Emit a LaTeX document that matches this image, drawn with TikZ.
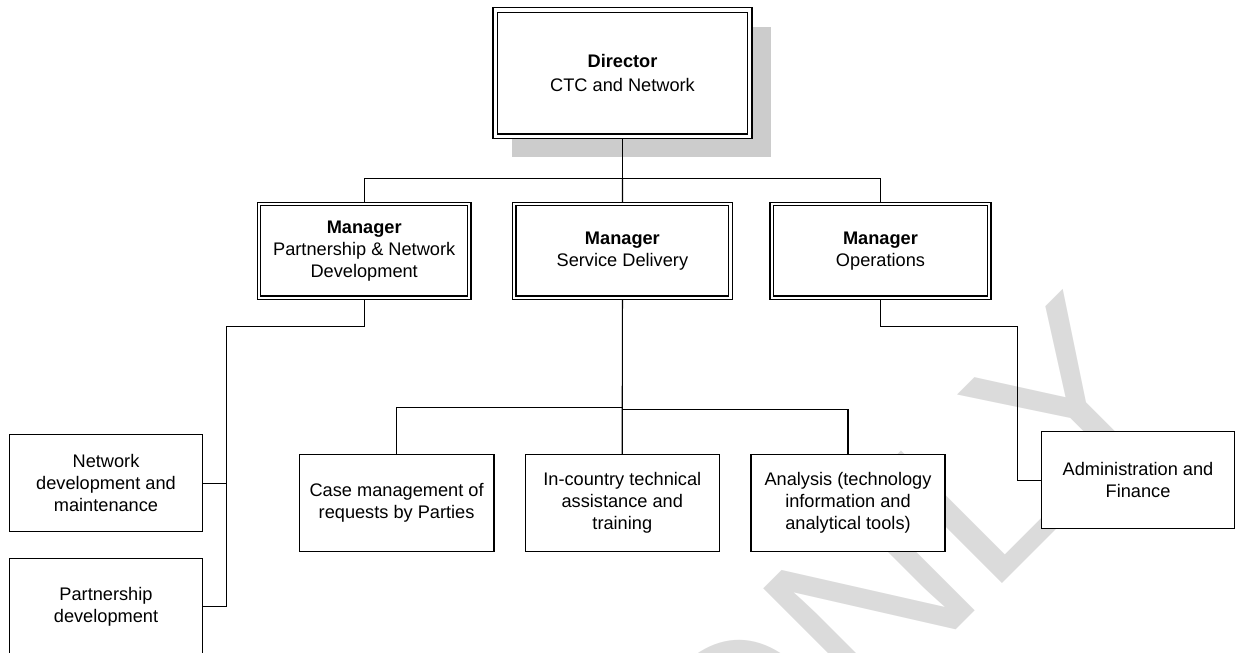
\documentclass[tikz,border=0pt]{standalone}
\usepackage{fontspec}
\setmainfont{Liberation Sans}
\usetikzlibrary{calc,backgrounds}
\newcommand{\boxfont}{\fontsize{18.2}{22}\selectfont}
\begin{document}
\begin{tikzpicture}[x=1pt,y=-1pt,
  unit/.style={draw,fill=white,line width=1.2pt,align=center,inner sep=0pt,font=\boxfont,minimum width=193.5pt,minimum height=97pt},
  mgr/.style={draw,fill=white,double=white,double distance=2.2pt,line width=1.2pt,outer sep=1.7pt,align=center,inner sep=0pt,font=\boxfont,minimum height=93.6pt},
  link/.style={line width=1.2pt},
  wmark/.style={text=black!14,font=\fontsize{240}{240}\selectfont,inner sep=0pt}]
  \useasboundingbox (0,0) rectangle (1235,653);
  \clip (0,0) rectangle (1235,653);
  % watermark, behind the chart
  \node[wmark,rotate=45,anchor=base west] (wm) at (734,852) {ONLY};
  % top level
  \node[mgr,double distance=3.3pt,outer sep=2.25pt,minimum width=254.6pt,minimum height=126.2pt,font=\fontsize{18.2}{23.5}\selectfont] (dir) at (622.5,73.1) {\textbf{Director}\\CTC and Network};
  \begin{scope}[on background layer]
    \fill[black!20] ($(dir.south west)+(19,19)$) rectangle ($(dir.north east)+(19,19)$);
  \end{scope}
  % managers
  \node[mgr,minimum width=210.3pt] (mpnd) at (364.2,250.8) {\textbf{Manager}\\Partnership \& Network\\Development};
  \node[mgr,minimum width=216.1pt] (msd) at (622.4,250.8) {\textbf{Manager}\\Service Delivery};
  \node[mgr,minimum width=217.6pt] (mops) at (880.5,250.8) {\textbf{Manager}\\Operations};
  % units
  \node[unit] (netdev) at (106,483.3) {Network\\development and\\maintenance};
  \node[unit] (partdev) at (106,606.6) {Partnership\\development};
  \node[unit,minimum width=194.7pt] (casemgmt) at (396.6,503) {Case management of\\requests by Parties};
  \node[unit,minimum width=194pt] (incountry) at (622.3,503) {In-country technical\\assistance and\\training};
  \node[unit,minimum width=194pt] (analysis) at (848,503) {Analysis (technology\\information and\\analytical tools)};
  \node[unit,minimum width=192.6pt] (adminfin) at (1138,480.2) {Administration and\\Finance};
  % bus points
  \coordinate (topbus) at (622.5,178.5);
  \coordinate (lbus) at (226.7,326.7);
  \coordinate (sbusL) at (622.4,407.7);
  \coordinate (sbusR) at (622.4,409.3);
  \coordinate (rbus) at (1017.7,326.7);
  % connectors
  \draw[link] (dir.south) -- (topbus);
  \draw[link] (mpnd.north) |- (topbus) -| (mops.north);
  \draw[link] (topbus) -- (msd.north);
  \draw[link] (mpnd.south) |- (lbus) |- (partdev.east);
  \draw[link] (netdev.east) -- (netdev.east -| lbus);
  \draw[link] (msd.south) -- (incountry.north);
  \draw[link] (sbusL) -| (casemgmt.north);
  \draw[link] (sbusR) -| (analysis.north);
  \draw[link] (mops.south) |- (rbus) |- (adminfin.west);
\end{tikzpicture}
\end{document}
